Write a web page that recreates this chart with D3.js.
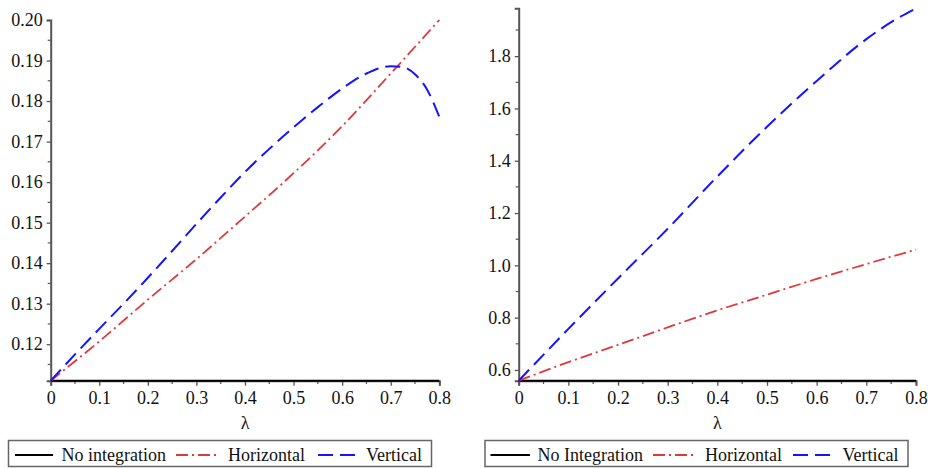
<!DOCTYPE html>
<html>
<head>
<meta charset="utf-8">
<script src="https://cdn.jsdelivr.net/npm/d3@7"></script>
<style>
  body { margin: 0; background: #fff; }
  svg text { font-family: "Liberation Serif", "Times New Roman", Times, "DejaVu Serif", "Noto Serif", serif !important; }
</style>
</head>
<body>
<div id="chart"></div>
<script>
// data
const lambdaTicks = [0, 0.1, 0.2, 0.3, 0.4, 0.5, 0.6, 0.7, 0.8];

// left panel
const leftLambda = [0, 0.1, 0.2, 0.3, 0.4, 0.5, 0.6, 0.7, 0.8];
const leftNone = [0.111, 0.111, 0.111, 0.111, 0.111, 0.111, 0.111, 0.111, 0.111];
const leftHorizontal = [0.111, 0.1207, 0.1310, 0.1410, 0.1515, 0.1622, 0.1738, 0.1868, 0.2000];
const leftVertLambda = [0, 0.05, 0.1, 0.15, 0.2, 0.25, 0.3, 0.35, 0.4, 0.45, 0.5, 0.55, 0.6, 0.65, 0.7, 0.725, 0.75, 0.775, 0.8];
const leftVertical = [0.111, 0.1175, 0.1238, 0.1300, 0.1364, 0.1430, 0.1497, 0.1562, 0.1625, 0.1682, 0.1735, 0.1785, 0.1831, 0.1868, 0.1886, 0.1884, 0.1866, 0.1828, 0.1761];
const leftYTicks = [0.12, 0.13, 0.14, 0.15, 0.16, 0.17, 0.18, 0.19, 0.20];

// right panel
const rightLambda = [0, 0.1, 0.2, 0.3, 0.4, 0.5, 0.6, 0.7, 0.75, 0.8];
const rightNone = [0.559, 0.559, 0.559, 0.559, 0.559, 0.559, 0.559, 0.559, 0.559, 0.559];
const rightHorizontal = [0.559, 0.630, 0.696, 0.763, 0.828, 0.888, 0.948, 1.005, 1.033, 1.060];
const rightVertical = [0.559, 0.757, 0.950, 1.140, 1.340, 1.530, 1.705, 1.865, 1.930, 1.983];
const rightYTicks = [0.6, 0.8, 1.0, 1.2, 1.4, 1.6, 1.8];

const leftLabels = ["No integration", "Horizontal", "Vertical"];
const rightLabels = ["No Integration", "Horizontal", "Vertical"];

const W = 928, H = 468;
const FONT = "'Liberation Serif', 'Times New Roman', Times, 'DejaVu Serif', serif";
const svg = d3.select("#chart").append("svg").attr("width", W).attr("height", H);

const styles = [
  { color: "#000000", dash: null, width: 2 },
  { color: "#e0393b", dash: "12,4,2,4", width: 1.8 },
  { color: "#1414ff", dash: "15,7", width: 2 }
];

function panel(opt) {
  const x = d3.scaleLinear().domain([0, 0.8]).range([opt.x0, opt.x1]);
  const y = d3.scaleLinear().domain(opt.yDomain).range([380.7, opt.yTop]);
  const g = svg.append("g");

  // minor ticks
  const xMinor = d3.range(0.05, 0.8, 0.1);
  g.selectAll(".xminor").data(xMinor).join("line")
    .attr("x1", d => x(d)).attr("x2", d => x(d))
    .attr("y1", 380.7).attr("y2", 384)
    .attr("stroke", "#555").attr("stroke-width", 1.2);
  g.selectAll(".yminor").data(opt.yMinor).join("line")
    .attr("x1", opt.x0 - 3).attr("x2", opt.x0)
    .attr("y1", d => y(d)).attr("y2", d => y(d))
    .attr("stroke", "#555").attr("stroke-width", 1.2);

  const xAxis = g.append("g")
    .attr("transform", "translate(0,380.7)")
    .call(d3.axisBottom(x).tickValues(lambdaTicks).tickSize(5).tickPadding(6)
      .tickFormat(d => d === 0 ? "0" : d3.format(".1f")(d)));
  const yAxis = g.append("g")
    .attr("transform", `translate(${opt.x0},0)`)
    .call(d3.axisLeft(y).tickValues(opt.yTicks).tickSize(4).tickPadding(4)
      .tickFormat(d3.format(opt.fmt)));

  [xAxis, yAxis].forEach(a => {
    a.attr("font-family", FONT);
    a.select(".domain").attr("stroke", "#555").attr("stroke-width", 2);
    a.selectAll(".tick line").attr("stroke", "#555").attr("stroke-width", 1.3);
    a.selectAll("text").attr("font-size", 18).attr("fill", "#111");
  });

  g.append("text")
    .attr("x", (opt.x0 + opt.x1) / 2).attr("y", 429)
    .attr("text-anchor", "middle").attr("font-size", 18).attr("fill", "#111")
    .text("λ");

  const series = [
    { xs: opt.lambda, ys: opt.none },
    { xs: opt.lambda, ys: opt.horizontal },
    { xs: opt.vertLambda, ys: opt.vertical }
  ];
  const line = d3.line().curve(d3.curveMonotoneX);
  series.forEach((s, i) => {
    const pts = s.xs.map((v, k) => [x(v), y(s.ys[k])]);
    g.append("path")
      .attr("d", line(pts))
      .attr("fill", "none")
      .attr("stroke", styles[i].color)
      .attr("stroke-width", styles[i].width)
      .attr("stroke-dasharray", styles[i].dash);
  });

  // legend
  const lg = svg.append("g");
  lg.append("rect")
    .attr("x", opt.legend.x).attr("y", 440.5)
    .attr("width", opt.legend.w).attr("height", 26)
    .attr("fill", "#fff").attr("stroke", "#666").attr("stroke-width", 1.5);
  opt.labels.forEach((lab, i) => {
    const it = opt.legend.items[i];
    lg.append("line")
      .attr("x1", it[0]).attr("x2", it[1]).attr("y1", 455).attr("y2", 455)
      .attr("stroke", styles[i].color).attr("stroke-width", 2)
      .attr("stroke-dasharray", styles[i].dash);
    lg.append("text")
      .attr("x", it[2]).attr("y", 460.5)
      .attr("font-size", 18).attr("fill", "#111")
      .text(lab);
  });
}

panel({
  x0: 50.7, x1: 439.3, yTop: 20, yDomain: [0.111, 0.200],
  yTicks: leftYTicks, yMinor: d3.range(0.115, 0.2, 0.01), fmt: ".2f",
  lambda: leftLambda, none: leftNone, horizontal: leftHorizontal,
  vertLambda: leftVertLambda, vertical: leftVertical,
  labels: leftLabels,
  legend: { x: 8.5, w: 423, items: [[15, 53, 61.5], [176, 218, 228], [318, 358, 366]] }
});

panel({
  x0: 518.7, x1: 916, yTop: 8.3, yDomain: [0.559, 1.983],
  yTicks: rightYTicks, yMinor: d3.range(0.7, 1.95, 0.2), fmt: ".1f",
  lambda: rightLambda, none: rightNone, horizontal: rightHorizontal,
  vertLambda: rightLambda, vertical: rightVertical,
  labels: rightLabels,
  legend: { x: 485, w: 423, items: [[490.5, 530, 537.5], [653, 697, 705], [793, 835, 842.5]] }
});
</script>
</body>
</html>
